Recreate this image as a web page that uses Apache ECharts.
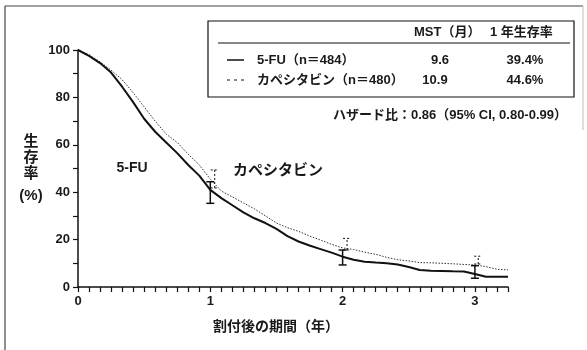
<!DOCTYPE html>
<html><head><meta charset="utf-8">
<script src="https://cdn.jsdelivr.net/npm/echarts@6/dist/echarts.min.js"></script>
<style>html,body{margin:0;padding:0;background:#fff}#c{width:587px;height:350px}</style>
</head><body><div id="c"></div>
<script>
// time in months after randomisation
const months = [0,1,2,3,4,5,6,7,8,9,10,11,12,13,14,15,16,17,18,19,20,21,22,23,24,25,26,27,28,29,30,31,32,33,34,35,36,37,38,39];
const fuSurv = [100,97.5,94.5,90.5,84.5,78,71,65.5,61,56.5,51.5,47,41,37.5,34.5,31.5,29,27,24.5,21.5,19.2,17.5,16,14.5,12.8,11.5,10.7,10.3,10,9.5,8.4,7.2,6.9,6.8,6.6,6.5,5.5,4.3,4.3,4.3];
const capeSurv = [100,98,95,91.5,87.5,82,76,70,64.5,61,56,51.5,45.5,40.5,38,35.5,33,30,27,25,23.5,21.5,19.8,18,16.5,15.8,14.7,13.8,12.5,11.5,11,10.3,10.2,10,9.8,9.5,9.3,8.6,7.5,7.2];
// 95% CI bars: [month, low, high]
const fuCI = [[12,35.3,44.4],[24,9.3,15.6],[36,3.7,9]];
const capeCI = [[12.4,41.8,49.4],[24.4,15.6,20.5],[36.3,9.7,13]];
const xTickLabels = ['0','1','2','3'];
const yTicks = [0,20,40,60,80,100];
const legendRows = [
  {name:'5-FU（n＝484）', mst:'9.6', rate:'39.4%'},
  {name:'カペシタビン（n＝480）', mst:'10.9', rate:'44.6%'}
];
const headerMST = 'MST（月）';
const headerRate = '1 年生存率';
const hazardText = 'ハザード比：0.86（95% CI, 0.80-0.99）';

const FONT = '"Liberation Sans","Noto Sans CJK JP",sans-serif';
const JP = '"Liberation Sans","Noto Sans CJK JP",sans-serif';
const chart = echarts.init(document.getElementById('c'), null, {renderer:'canvas'});

function ciRender(dashed){
  return function(params, api){
    const x = api.value(0);
    const lo = api.coord([x, api.value(1)]);
    const hi = api.coord([x, api.value(2)]);
    const st = {stroke:'#111', lineWidth: dashed?1:1.5, lineDash: dashed?[2,2]:null};
    return {type:'group', children:[
      {type:'line', shape:{x1:lo[0],y1:lo[1],x2:hi[0],y2:hi[1]}, style:st},
      {type:'line', shape:{x1:lo[0]-4,y1:lo[1],x2:lo[0]+4,y2:lo[1]}, style:st},
      {type:'line', shape:{x1:hi[0]-4,y1:hi[1],x2:hi[0]+4,y2:hi[1]}, style:st}
    ]};
  };
}

const txt = (x,y,s,opt={}) => ({type:'text', x:x, y:y, silent:true, style:Object.assign({text:s, fill:'#1a1a1a', font:'bold 13px '+JP, textAlign:'left', textVerticalAlign:'middle'}, opt)});

const option = {
  backgroundColor:'#fff',
  animation:false,
  grid:{left:78, top:50, right:79, bottom:63},
  xAxis:{
    type:'value', min:0, max:39, interval:1,
    axisLine:{lineStyle:{color:'#111', width:1.5}},
    axisTick:{show:true, length:5, lineStyle:{color:'#111', width:1.2}},
    axisLabel:{color:'#1a1a1a', fontSize:13, fontWeight:'bold', fontFamily:FONT, margin:8,
      formatter: v => (v % 12 === 0 ? xTickLabels[v/12] : '')},
    splitLine:{show:false}
  },
  yAxis:{
    type:'value', min:0, max:100, interval:20,
    axisLine:{show:true, lineStyle:{color:'#111', width:1.5}},
    axisTick:{show:true, length:5, lineStyle:{color:'#111', width:1.2}},
    minorTick:{show:true, splitNumber:2, length:5, lineStyle:{color:'#111', width:1.2}},
    axisLabel:{color:'#1a1a1a', fontSize:13, fontWeight:'bold', fontFamily:FONT, margin:8,
      formatter: v => (yTicks.indexOf(v) >= 0 ? String(v) : '')},
    splitLine:{show:false}
  },
  series:[
    {type:'line', data: months.map((m,i)=>[m, capeSurv[i]]), showSymbol:false, symbol:'none',
      lineStyle:{color:'#333', width:1, type:[1.5,1.5]}, z:2},
    {type:'line', data: months.map((m,i)=>[m, fuSurv[i]]), showSymbol:false, symbol:'none',
      lineStyle:{color:'#111', width:2}, z:3},
    {type:'custom', data: fuCI, renderItem: ciRender(false), z:4},
    {type:'custom', data: capeCI, renderItem: ciRender(true), z:4}
  ],
  graphic:[
    // outer frame
    {type:'line', silent:true, shape:{x1:5,y1:6,x2:583,y2:6}, style:{stroke:'#444', lineWidth:1}},
    {type:'line', silent:true, shape:{x1:5,y1:6,x2:5,y2:350}, style:{stroke:'#444', lineWidth:1.2}},
    {type:'line', silent:true, shape:{x1:583,y1:6,x2:583,y2:130}, style:{stroke:'#bbb', lineWidth:1}},
    // legend table
    {type:'rect', silent:true, shape:{x:208,y:21,width:366,height:76}, style:{fill:'none', stroke:'#111', lineWidth:1.2}},
    {type:'line', silent:true, shape:{x1:218,y1:43,x2:570,y2:43}, style:{stroke:'#111', lineWidth:1.2}},
    txt(414,32,headerMST),
    txt(490,32,headerRate),
    {type:'line', silent:true, shape:{x1:227,y1:60,x2:244,y2:60}, style:{stroke:'#111', lineWidth:1.5}},
    {type:'line', silent:true, shape:{x1:227,y1:80,x2:246,y2:80}, style:{stroke:'#111', lineWidth:1, lineDash:[3,4]}},
    txt(257,60,legendRows[0].name),
    txt(257,80,legendRows[1].name),
    txt(440,60,legendRows[0].mst,{textAlign:'center'}),
    txt(435,80,legendRows[1].mst,{textAlign:'center'}),
    txt(525,60,legendRows[0].rate,{textAlign:'center'}),
    txt(525,80,legendRows[1].rate,{textAlign:'center'}),
    txt(567,115,hazardText,{textAlign:'right'}),
    // curve labels
    txt(132,168,'5-FU',{textAlign:'center', font:'bold 14px '+JP}),
    txt(233,171,'カペシタビン',{font:'bold 15px '+JP}),
    // axis titles
    txt(31,142,'生',{textAlign:'center', font:'bold 15px '+JP}),
    txt(31,158,'存',{textAlign:'center', font:'bold 15px '+JP}),
    txt(31,174,'率',{textAlign:'center', font:'bold 15px '+JP}),
    txt(31,196,'(%)',{textAlign:'center', font:'bold 15px '+JP}),
    txt(276,327,'割付後の期間（年）',{textAlign:'center', font:'bold 14px '+JP})
  ]
};
chart.setOption(option);
</script>
</body></html>
